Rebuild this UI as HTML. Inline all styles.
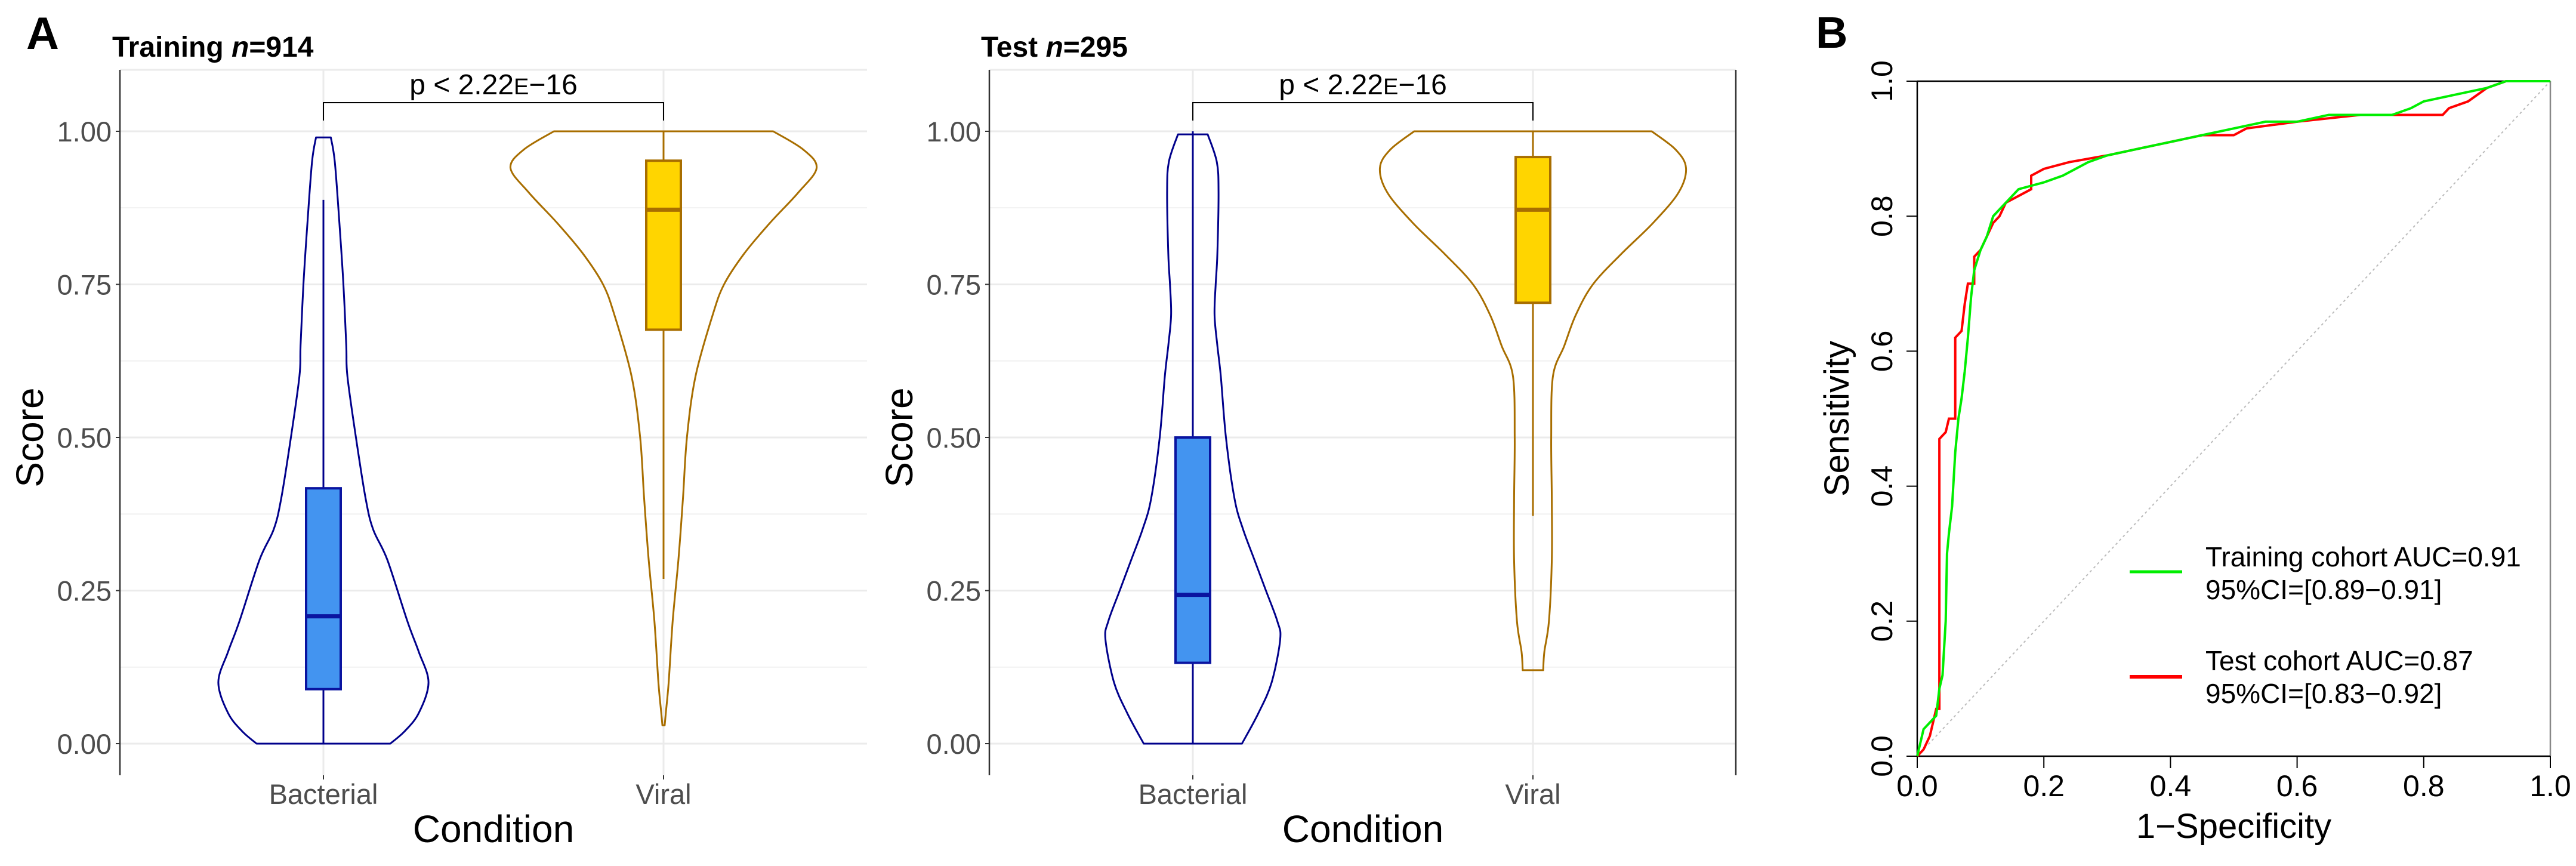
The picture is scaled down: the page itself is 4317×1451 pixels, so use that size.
<!DOCTYPE html>
<html><head><meta charset="utf-8"><style>
html,body{margin:0;padding:0;background:#fff}
svg{display:block;font-family:"Liberation Sans",sans-serif}
</style></head><body>
<svg id="fig" width="4317" height="1451" viewBox="0 0 4317 1451" xmlns="http://www.w3.org/2000/svg">
<rect width="4317" height="1451" fill="#fff"/>
</svg>
<script>
// ---- Panel A data (violin half-widths as relative density, box stats) ----
const categories = ["Bacterial", "Viral"];
const yTicks = [0, 0.25, 0.5, 0.75, 1.0];
const yTickLabels = ["0.00", "0.25", "0.50", "0.75", "1.00"];
const trainBactLevels = [0, 0.02, 0.05, 0.1, 0.15, 0.2, 0.3, 0.35, 0.4, 0.5, 0.6, 0.65, 0.75, 0.85, 0.95, 0.99];
const trainBactDens   = [117, 142, 167, 184, 167, 147, 112, 87, 74, 57, 42, 40, 35, 28, 20, 13];
const trainViralLevels = [0.03, 0.05, 0.1, 0.2, 0.3, 0.4, 0.5, 0.6, 0.7, 0.75, 0.8, 0.85, 0.9, 0.94, 0.97, 1.0];
const trainViralDens   = [2, 4, 9, 16, 26, 34, 41, 56, 86, 106, 141, 186, 236, 268, 245, 192];
const testBactLevels = [0, 0.05, 0.1, 0.17, 0.2, 0.25, 0.3, 0.35, 0.4, 0.5, 0.6, 0.65, 0.7, 0.75, 0.8, 0.9, 0.95, 0.995];
const testBactDens   = [86, 115, 138, 153, 148, 128, 108, 88, 73, 58, 49, 43, 38, 40, 43, 45, 42, 26];
const testViralLevels = [0.12, 0.15, 0.2, 0.3, 0.4, 0.5, 0.6, 0.65, 0.7, 0.75, 0.8, 0.85, 0.9, 0.94, 0.97, 1.0];
const testViralDens   = [18, 20, 28, 33, 33, 32, 35, 55, 75, 105, 155, 210, 255, 268, 250, 208];
// box stats: [whiskerLow, q1, median, q3, whiskerHigh]
const trainBactBox = [0, 0.089, 0.208, 0.417, 0.888];
const trainViralBox = [0.269, 0.676, 0.872, 0.952, 1.0];
const testBactBox = [0, 0.132, 0.243, 0.50, 1.0];
const testViralBox = [0.372, 0.72, 0.872, 0.958, 1.0];

// ---- Panel B data ----
const xTicksROC = [0, 0.2, 0.4, 0.6, 0.8, 1.0];
const xTickLabelsROC = ["0.0", "0.2", "0.4", "0.6", "0.8", "1.0"];
const trainFpr = [0,0.005,0.01,0.02,0.03,0.035,0.04,0.045,0.047,0.05,0.055,0.06,0.065,0.07,0.075,0.08,0.085,0.09,0.1,0.11,0.12,0.13,0.14,0.16,0.2,0.23,0.27,0.3,0.35,0.4,0.45,0.5,0.55,0.6,0.65,0.75,0.78,0.8,0.85,0.9,0.93,1];
const trainTpr = [0,0.02,0.04,0.05,0.06,0.1,0.12,0.2,0.3,0.33,0.37,0.45,0.5,0.53,0.57,0.62,0.68,0.72,0.75,0.77,0.8,0.81,0.82,0.84,0.85,0.86,0.88,0.89,0.9,0.91,0.92,0.93,0.94,0.94,0.95,0.95,0.96,0.97,0.98,0.99,1,1];
const testFpr = [0,0.01,0.02,0.03,0.035,0.035,0.045,0.05,0.06,0.06,0.07,0.075,0.08,0.09,0.09,0.1,0.11,0.12,0.13,0.14,0.16,0.18,0.18,0.2,0.24,0.3,0.35,0.4,0.45,0.5,0.52,0.6,0.7,0.83,0.84,0.87,0.9,0.93,1];
const testTpr = [0,0.01,0.03,0.07,0.07,0.47,0.48,0.5,0.5,0.62,0.63,0.67,0.7,0.7,0.74,0.75,0.77,0.79,0.8,0.82,0.83,0.84,0.86,0.87,0.88,0.89,0.9,0.91,0.92,0.92,0.93,0.94,0.95,0.95,0.96,0.97,0.99,1,1];

const NS = "http://www.w3.org/2000/svg";
const svg = document.getElementById("fig");
function mk(tag, attrs, parent, text) {
  const e = document.createElementNS(NS, tag);
  for (const k in attrs) e.setAttribute(k, attrs[k]);
  if (text !== undefined) e.textContent = text;
  (parent || svg).appendChild(e);
  return e;
}
// Catmull-Rom smooth path through points (open)
function smooth(pts) {
  let d = "M" + pts[0][0].toFixed(1) + "," + pts[0][1].toFixed(1);
  for (let i = 0; i < pts.length - 1; i++) {
    const p0 = pts[Math.max(0, i - 1)], p1 = pts[i], p2 = pts[i + 1], p3 = pts[Math.min(pts.length - 1, i + 2)];
    const c1 = [p1[0] + (p2[0] - p0[0]) / 6, p1[1] + (p2[1] - p0[1]) / 6];
    const c2 = [p2[0] - (p3[0] - p1[0]) / 6, p2[1] - (p3[1] - p1[1]) / 6];
    d += " C" + c1[0].toFixed(1) + "," + c1[1].toFixed(1) + " " + c2[0].toFixed(1) + "," + c2[1].toFixed(1) + " " + p2[0].toFixed(1) + "," + p2[1].toFixed(1);
  }
  return d;
}

const densScale = 1 / 1.045;
function violinPanel(opt) {
  const g = mk("g", {});
  
  
  const x0 = opt.x0, x1 = opt.x1, top = 117, axisBottom = 1299;
  const y = v => 1246 - v * 1026;
  const cx = i => x0 + (i === 0 ? 341 : 911);
  [0.125, 0.375, 0.625, 0.875].forEach(v => mk("line", {x1: x0, x2: x1, y1: y(v), y2: y(v), stroke: "#EBEBEB", "stroke-width": 1.5}, g));
  yTicks.forEach(v => mk("line", {x1: x0, x2: x1, y1: y(v), y2: y(v), stroke: "#EBEBEB", "stroke-width": 3}, g));
  categories.forEach((c, i) => mk("line", {x1: cx(i), x2: cx(i), y1: top, y2: axisBottom, stroke: "#EBEBEB", "stroke-width": 3}, g));
  mk("line", {x1: x0, x2: x1, y1: top, y2: top, stroke: "#EBEBEB", "stroke-width": 3}, g);
  const ax = mk("line", {x1: x0, x2: x0, y1: top, y2: axisBottom, stroke: "#333", "stroke-width": 2.5}, g);
  
  
  yTicks.forEach((v, i) => {
    mk("line", {x1: x0 - 7, x2: x0, y1: y(v), y2: y(v), stroke: "#333", "stroke-width": 2}, g);
    const t = mk("text", {x: x0 - 14, y: y(v) + 17, "text-anchor": "end", "font-size": 47, fill: "#4D4D4D"}, g, yTickLabels[i]);
    
    
  });
  categories.forEach((c, i) => {
    mk("line", {x1: cx(i), x2: cx(i), y1: axisBottom, y2: axisBottom + 7, stroke: "#333", "stroke-width": 2}, g);
    const t = mk("text", {x: cx(i), y: 1347, "text-anchor": "middle", "font-size": 47, fill: "#4D4D4D"}, g, c);
    
    
  });
  if (opt.rightLine) mk("line", {x1: x1, x2: x1, y1: top, y2: axisBottom, stroke: "#333", "stroke-width": 2.5}, g);
  opt.violins.forEach((vd, i) => {
    const c = cx(i);
    let left = [], right = [];
    vd.levels.forEach((lv, k) => {
      const w = vd.dens[k] * densScale;
      left.push([c - w, y(lv)]); right.push([c + w, y(lv)]);
    });
    const n = left.length;
    const dL = smooth(left);
    const dR = smooth(right.slice().reverse());
    const d = dL + " L" + right[n - 1][0].toFixed(1) + "," + right[n - 1][1].toFixed(1) + dR.replace(/^M[^C]*/, " ") + " Z";
    const p = mk("path", {d: d, fill: "none", stroke: vd.stroke, "stroke-width": 3, "stroke-linejoin": "round"}, g);
    
    
    const b = vd.box, bw = 29;
    mk("line", {x1: c, x2: c, y1: y(b[0]), y2: y(b[1]), stroke: vd.stroke, "stroke-width": 3}, g);
    mk("line", {x1: c, x2: c, y1: y(b[3]), y2: y(b[4]), stroke: vd.stroke, "stroke-width": 3}, g);
    const r = mk("rect", {x: c - bw, y: y(b[3]), width: 2 * bw, height: y(b[1]) - y(b[3]), fill: vd.fill, stroke: vd.boxStroke, "stroke-width": 4}, g);
    
    
    mk("line", {x1: c - bw, x2: c + bw, y1: y(b[2]), y2: y(b[2]), stroke: vd.boxStroke, "stroke-width": 7}, g);
  });
  const br = mk("path", {d: `M${cx(0)},202 V172 H${cx(1)} V202`, fill: "none", stroke: "#000", "stroke-width": 2}, g);
  
  
  const pt = mk("text", {x: (cx(0) + cx(1)) / 2, y: 158, "text-anchor": "middle", "font-size": 48, fill: "#000"}, g);
  
  
  mk("tspan", {}, pt, "p < 2.22");
  mk("tspan", {"font-size": 38}, pt, "E");
  mk("tspan", {}, pt, "\u221216");
  const tt = mk("text", {x: opt.titleX, y: 95, "font-size": 48, "font-weight": "bold", fill: "#000"}, g);
  
  
  mk("tspan", {}, tt, opt.title + " ");
  mk("tspan", {"font-style": "italic"}, tt, "n");
  mk("tspan", {}, tt, "=" + opt.n);
  const yt = mk("text", {x: 0, y: 0, "font-size": 64, "text-anchor": "middle", fill: "#000", transform: `translate(${x0 - 129},${y(0.5)}) rotate(-90)`}, g, "Score");
  
  
  const xt = mk("text", {x: x0 + 626, y: 1411, "font-size": 64, "text-anchor": "middle", fill: "#000"}, g, "Condition");
  
  
}

const bStroke = "#00008B", vStroke = "#A86E00";
violinPanel({name: "training-violin-panel", x0: 201, x1: 1453, title: "Training", n: 914, titleX: 188, rightLine: false,
  violins: [
    {levels: trainBactLevels, dens: trainBactDens, box: trainBactBox, stroke: bStroke, fill: "#4394F0", boxStroke: "#0A14A0"},
    {levels: trainViralLevels, dens: trainViralDens, box: trainViralBox, stroke: vStroke, fill: "#FFD500", boxStroke: "#A86E00"}
  ]});
violinPanel({name: "test-violin-panel", x0: 1658, x1: 2909, title: "Test", n: 295, titleX: 1644, rightLine: true,
  violins: [
    {levels: testBactLevels, dens: testBactDens, box: testBactBox, stroke: bStroke, fill: "#4394F0", boxStroke: "#0A14A0"},
    {levels: testViralLevels, dens: testViralDens, box: testViralBox, stroke: vStroke, fill: "#FFD500", boxStroke: "#A86E00"}
  ]});
const la = mk("text", {x: 44, y: 82, "font-size": 76, "font-weight": "bold", fill: "#000"}, svg, "A");



// ---- ROC panel ----
(function () {
  const g = mk("g", {});
  
  
  const L = 3213, R = 4274, T = 136, B = 1267;
  const sx = v => L + v * (R - L), sy = v => B - v * (B - T);
  mk("line", {x1: sx(0), y1: sy(0), x2: sx(1), y2: sy(1), stroke: "#BBB", "stroke-width": 2, "stroke-dasharray": "4,5"}, g);
  mk("line", {x1: L, x2: R, y1: T, y2: T, stroke: "#000", "stroke-width": 2.5}, g);
  mk("line", {x1: R, x2: R, y1: T, y2: B, stroke: "#888", "stroke-width": 2.5}, g);
  mk("line", {x1: L, x2: L, y1: T, y2: B, stroke: "#000", "stroke-width": 2.5}, g);
  mk("line", {x1: L, x2: R, y1: B, y2: B, stroke: "#000", "stroke-width": 2.5}, g);
  xTicksROC.forEach((v, i) => {
    mk("line", {x1: sx(v), x2: sx(v), y1: B, y2: B + 20, stroke: "#000", "stroke-width": 2}, g);
    const t = mk("text", {x: sx(v), y: 1334, "text-anchor": "middle", "font-size": 50, fill: "#000"}, g, xTickLabelsROC[i]);
    
    
    mk("line", {x1: L - 18, x2: L, y1: sy(v), y2: sy(v), stroke: "#000", "stroke-width": 2}, g);
    const u = mk("text", {x: 0, y: 0, "text-anchor": "middle", "font-size": 50, fill: "#000", transform: `translate(${L - 42},${sy(v)}) rotate(-90)`}, g, xTickLabelsROC[i]);
    
    
  });
  function line(f, t, color, name) {
    const pts = f.map((v, i) => sx(v).toFixed(1) + "," + sy(t[i]).toFixed(1)).join(" ");
    const p = mk("polyline", {points: pts, fill: "none", stroke: color, "stroke-width": 4, "stroke-linejoin": "miter"}, g);
    
    
  }
  line(testFpr, testTpr, "#FF0000", "roc-test-curve");
  line(trainFpr, trainTpr, "#00EE00", "roc-training-curve");
  const yt = mk("text", {x: 0, y: 0, "font-size": 58, "text-anchor": "middle", fill: "#000", transform: `translate(${3098},${sy(0.5)}) rotate(-90)`}, g, "Sensitivity");
  
  
  const xt = mk("text", {x: sx(0.5), y: 1404, "font-size": 58, "text-anchor": "middle", fill: "#000"}, g, "1\u2212Specificity");
  
  
  const lg = mk("g", {}, g);
  
  
  mk("line", {x1: 3569, x2: 3657, y1: 958, y2: 958, stroke: "#00EE00", "stroke-width": 5}, lg);
  mk("line", {x1: 3569, x2: 3657, y1: 1134, y2: 1134, stroke: "#FF0000", "stroke-width": 6}, lg);
  [["Training cohort AUC=0.91", 949], ["95%CI=[0.89\u22120.91]", 1004], ["Test cohort AUC=0.87", 1123], ["95%CI=[0.83\u22120.92]", 1178]].forEach(a => {
    const t = mk("text", {x: 3696, y: a[1], "font-size": 46, fill: "#000"}, lg, a[0]);
    
    
  });
  const lb = mk("text", {x: 3043, y: 80, "font-size": 74, "font-weight": "bold", fill: "#000"}, g, "B");
  
  
})();
</script>
</body></html>
